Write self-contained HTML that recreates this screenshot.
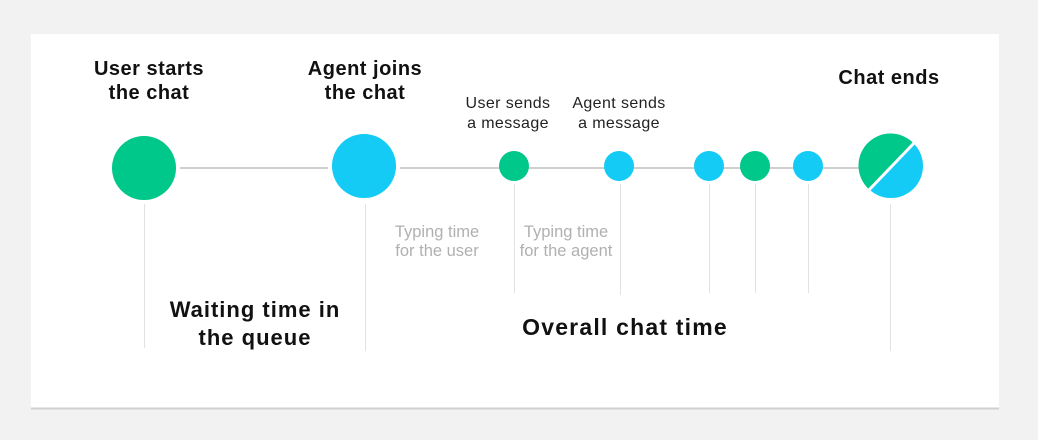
<!DOCTYPE html>
<html><head><meta charset="utf-8"><style>
body{margin:0;width:1038px;height:440px;background:#f2f2f2;overflow:hidden;font-family:"Liberation Sans",sans-serif}
</style></head><body>
<svg width="1038" height="440" xmlns="http://www.w3.org/2000/svg" style="position:absolute;left:0;top:0">
<rect x="31" y="34" width="968" height="374" fill="#fff"/>
<line x1="31" y1="408.5" x2="999" y2="408.5" stroke="#d0d0d0" stroke-width="2"/>
<line x1="180" y1="168" x2="860" y2="168" stroke="#cfcfcf" stroke-width="2"/>
<g stroke="#fff" stroke-width="4">
<line x1="176" y1="168" x2="180" y2="168"/><line x1="328" y1="168" x2="332" y2="168"/>
<line x1="396" y1="168" x2="400" y2="168"/>
</g>
<g stroke="#e2e2e2" stroke-width="1">
<line x1="144.5" y1="204" x2="144.5" y2="348"/>
<line x1="365.5" y1="204" x2="365.5" y2="351"/>
<line x1="514.5" y1="184" x2="514.5" y2="293"/>
<line x1="620.5" y1="184" x2="620.5" y2="295"/>
<line x1="709.5" y1="184" x2="709.5" y2="293"/>
<line x1="755.5" y1="184" x2="755.5" y2="293"/>
<line x1="808.5" y1="184" x2="808.5" y2="293"/>
<line x1="890.5" y1="204" x2="890.5" y2="351"/>
</g>
<circle cx="144" cy="168" r="32" fill="#00c78a"/>
<circle cx="364" cy="166" r="32" fill="#14cbf5"/>
<circle cx="514" cy="166" r="15" fill="#00c78a"/>
<circle cx="619" cy="166" r="15" fill="#14cbf5"/>
<circle cx="709" cy="166" r="15" fill="#14cbf5"/>
<circle cx="755" cy="166" r="15" fill="#00c78a"/>
<circle cx="808" cy="166" r="15" fill="#14cbf5"/>
<circle cx="891" cy="166" r="32" fill="#14cbf5"/>
<path d="M869.4 189.6 A32 32 0 1 1 913.6 143.4 Z" fill="#00c78a"/>
<line x1="868" y1="191" x2="915" y2="142" stroke="#fff" stroke-width="3"/>
<g font-weight="bold" fill="#111" text-anchor="middle" font-size="20" letter-spacing="0.5">
<text x="149" y="75">User starts</text><text x="149" y="99">the chat</text>
<text x="365" y="75">Agent joins</text><text x="365" y="99">the chat</text>
<text x="889" y="84">Chat ends</text>
<text x="255" y="317" font-size="22" letter-spacing="1">Waiting time in</text><text x="255" y="345" font-size="22" letter-spacing="1">the queue</text>
<text x="625" y="335" font-size="23" letter-spacing="1.2">Overall chat time</text>
</g>
<g fill="#222" text-anchor="middle" font-size="16" letter-spacing="0.4">
<text x="508" y="108">User sends</text><text x="508" y="128">a message</text>
<text x="619" y="108">Agent sends</text><text x="619" y="128">a message</text>
</g>
<g fill="#b0b0b0" text-anchor="middle" font-size="16.5">
<text x="437" y="237">Typing time</text><text x="437" y="256">for the user</text>
<text x="566" y="237">Typing time</text><text x="566" y="256">for the agent</text>
</g>
</svg>
</body></html>
